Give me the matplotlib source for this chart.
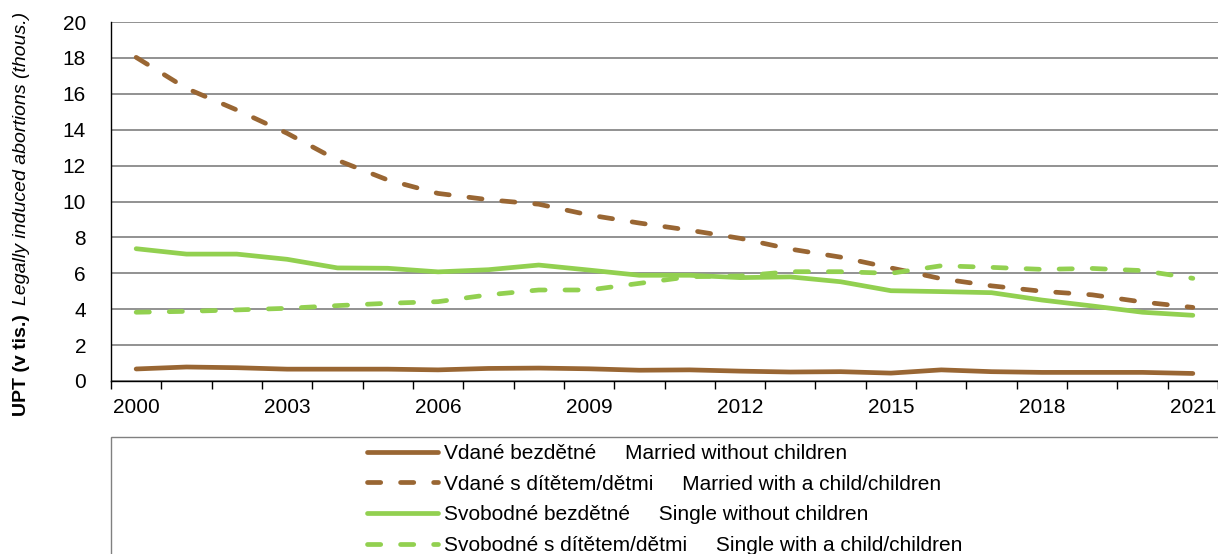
import matplotlib
matplotlib.use("Agg")
import matplotlib.pyplot as plt
from matplotlib.patches import Rectangle
import numpy as np

plt.rcParams['font.family'] = ['Liberation Sans', 'DejaVu Sans']

years = list(range(2000, 2022))
married_no_children = [0.67, 0.78, 0.74, 0.66, 0.66, 0.66, 0.62, 0.70, 0.72, 0.68, 0.60,
                       0.62, 0.55, 0.50, 0.52, 0.44, 0.62, 0.52, 0.48, 0.48, 0.48, 0.42]
married_with_children = [18.03, 16.3, 15.1, 13.8, 12.3, 11.2, 10.45, 10.1, 9.85, 9.25, 8.8,
                         8.4, 7.95, 7.35, 6.9, 6.3, 5.7, 5.3, 5.0, 4.8, 4.4, 4.1]
single_no_children = [7.37, 7.07, 7.07, 6.78, 6.30, 6.28, 6.08, 6.20, 6.46, 6.18, 5.89,
                      5.89, 5.76, 5.80, 5.53, 5.03, 4.98, 4.92, 4.51, 4.18, 3.83, 3.66]
single_with_children = [3.83, 3.88, 3.96, 4.05, 4.20, 4.33, 4.42, 4.80, 5.07, 5.07, 5.44,
                        5.81, 5.85, 6.09, 6.09, 6.00, 6.42, 6.33, 6.22, 6.27, 6.15, 5.72]
labels = ["Vdané bezdětné     Married without children",
          "Vdané s dítětem/dětmi     Married with a child/children",
          "Svobodné bezdětné     Single without children",
          "Svobodné s dítětem/dětmi     Single with a child/children"]
yticks = [0, 2, 4, 6, 8, 10, 12, 14, 16, 18, 20]

BROWN = "#996633"
GREEN = "#92D050"

W, H = 1218, 554
fig = plt.figure(figsize=(W / 100, H / 100), dpi=100)
ax = fig.add_axes([111 / W, 1 - 381 / H, (W - 111) / W, (381 - 22) / H])

x = np.arange(len(years))
lw = 3.4
dash = (0, (2.8, 4.2))
ax.plot(x, married_no_children, color=BROWN, lw=lw, label=labels[0], solid_capstyle='round')
ax.plot(x, married_with_children, color=BROWN, lw=lw, linestyle=dash, dash_capstyle='round',
        label=labels[1])
ax.plot(x, single_no_children, color=GREEN, lw=lw, label=labels[2], solid_capstyle='round')
ax.plot(x, single_with_children, color=GREEN, lw=lw, linestyle=dash, dash_capstyle='round',
        label=labels[3])

ax.set_xlim(-0.5, len(years) - 0.5)
ax.set_ylim(0, 20)
ax.set_yticks(yticks)
ax.yaxis.grid(True, color="#7f7f7f", lw=1.2)
ax.set_axisbelow(True)
ax.tick_params(axis='y', length=0, pad=18, labelsize=15)

ax.set_xticks(np.arange(-0.5, len(years), 1.0))
ax.set_xticklabels([])
ax.set_xticks(x[::3], minor=True)
ax.set_xticklabels([str(y) for y in years[::3]], minor=True)
ax.tick_params(axis='x', which='major', length=6, width=1, direction='out', color='black')
ax.tick_params(axis='x', which='minor', length=0, pad=12, labelsize=15)

for s in ['top', 'right']:
    ax.spines[s].set_visible(False)
ax.spines['left'].set_color('black')
ax.spines['bottom'].set_color('black')
ax.spines['left'].set_linewidth(1)
ax.spines['bottom'].set_linewidth(1)

fig.text(22 / W, 1 - 416 / H, "UPT (v tis.)", rotation=90, fontsize=14, fontweight='bold',
         ha='center', va='bottom')
fig.text(22 / W, 1 - 12 / H, "Legally induced abortions (thous.)", rotation=90, fontsize=14,
         style='italic', ha='center', va='top')

# legend frame
fig.patches.append(Rectangle((111 / W, -0.05), 1.0, (1 - 437 / H) + 0.05,
                             transform=fig.transFigure, fill=False, edgecolor="#808080",
                             lw=1.0, figure=fig))

leg = fig.legend(loc='upper left', bbox_to_anchor=(367 / W, 1 - 444 / H), frameon=False,
                 fontsize=15, handlelength=3.4, handletextpad=0.3, labelspacing=0.56,
                 borderpad=0, borderaxespad=0)

fig.savefig("out.png", dpi=100)
